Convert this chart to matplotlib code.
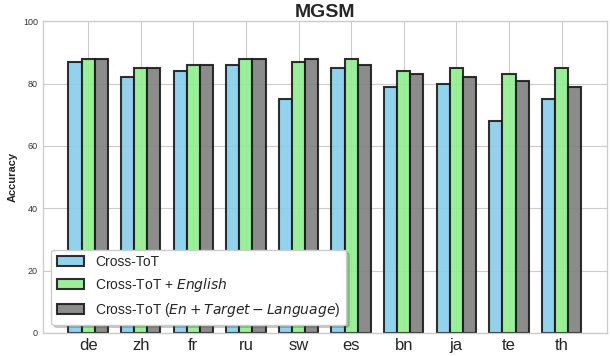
import matplotlib
matplotlib.use('Agg')
import matplotlib.pyplot as plt
import numpy as np

languages = ['de', 'zh', 'fr', 'ru', 'sw', 'es', 'bn', 'ja', 'te', 'th']
cross_tot = [87, 82, 84, 86, 75, 85, 79, 80, 68, 75]
cross_tot_english = [88, 85, 86, 88, 87, 88, 84, 85, 83, 85]
cross_tot_en_target = [88, 85, 86, 88, 88, 86, 83, 82, 81, 79]

plt.style.use('seaborn-v0_8-whitegrid')

fig, ax = plt.subplots(figsize=(6.1, 3.56), dpi=100)

x = np.arange(len(languages))
width = 0.25

ax.bar(x - width, cross_tot, width, color='skyblue', edgecolor='#1a1a1a', linewidth=1.5, alpha=0.9,
       label='Cross-ToT')
ax.bar(x, cross_tot_english, width, color='lightgreen', edgecolor='#1a1a1a', linewidth=1.5, alpha=0.9,
       label='Cross-ToT + $English$')
ax.bar(x + width, cross_tot_en_target, width, color='gray', edgecolor='#1a1a1a', linewidth=1.5, alpha=0.9,
       label='Cross-ToT ($En+Target-Language$)')

ax.set_ylim(0, 100)
ax.set_xticks(x)
ax.set_xticklabels(languages, fontsize=12)
ax.tick_params(axis='y', labelsize=6.5, labelcolor='#333333')
ax.set_ylabel('Accuracy', fontsize=8, fontweight='bold')
ax.set_title('MGSM', fontsize=14, fontweight='bold', pad=2)

for spine in ax.spines.values():
    spine.set_visible(True)
    spine.set_color('#cccccc')

ax.legend(loc='lower left', fontsize=10, frameon=True, fancybox=True,
          shadow={'alpha': 0.25}, framealpha=1.0, borderaxespad=0.6)

plt.subplots_adjust(left=0.07, right=0.995, top=0.94, bottom=0.065)
plt.savefig('out.png', dpi=100)
